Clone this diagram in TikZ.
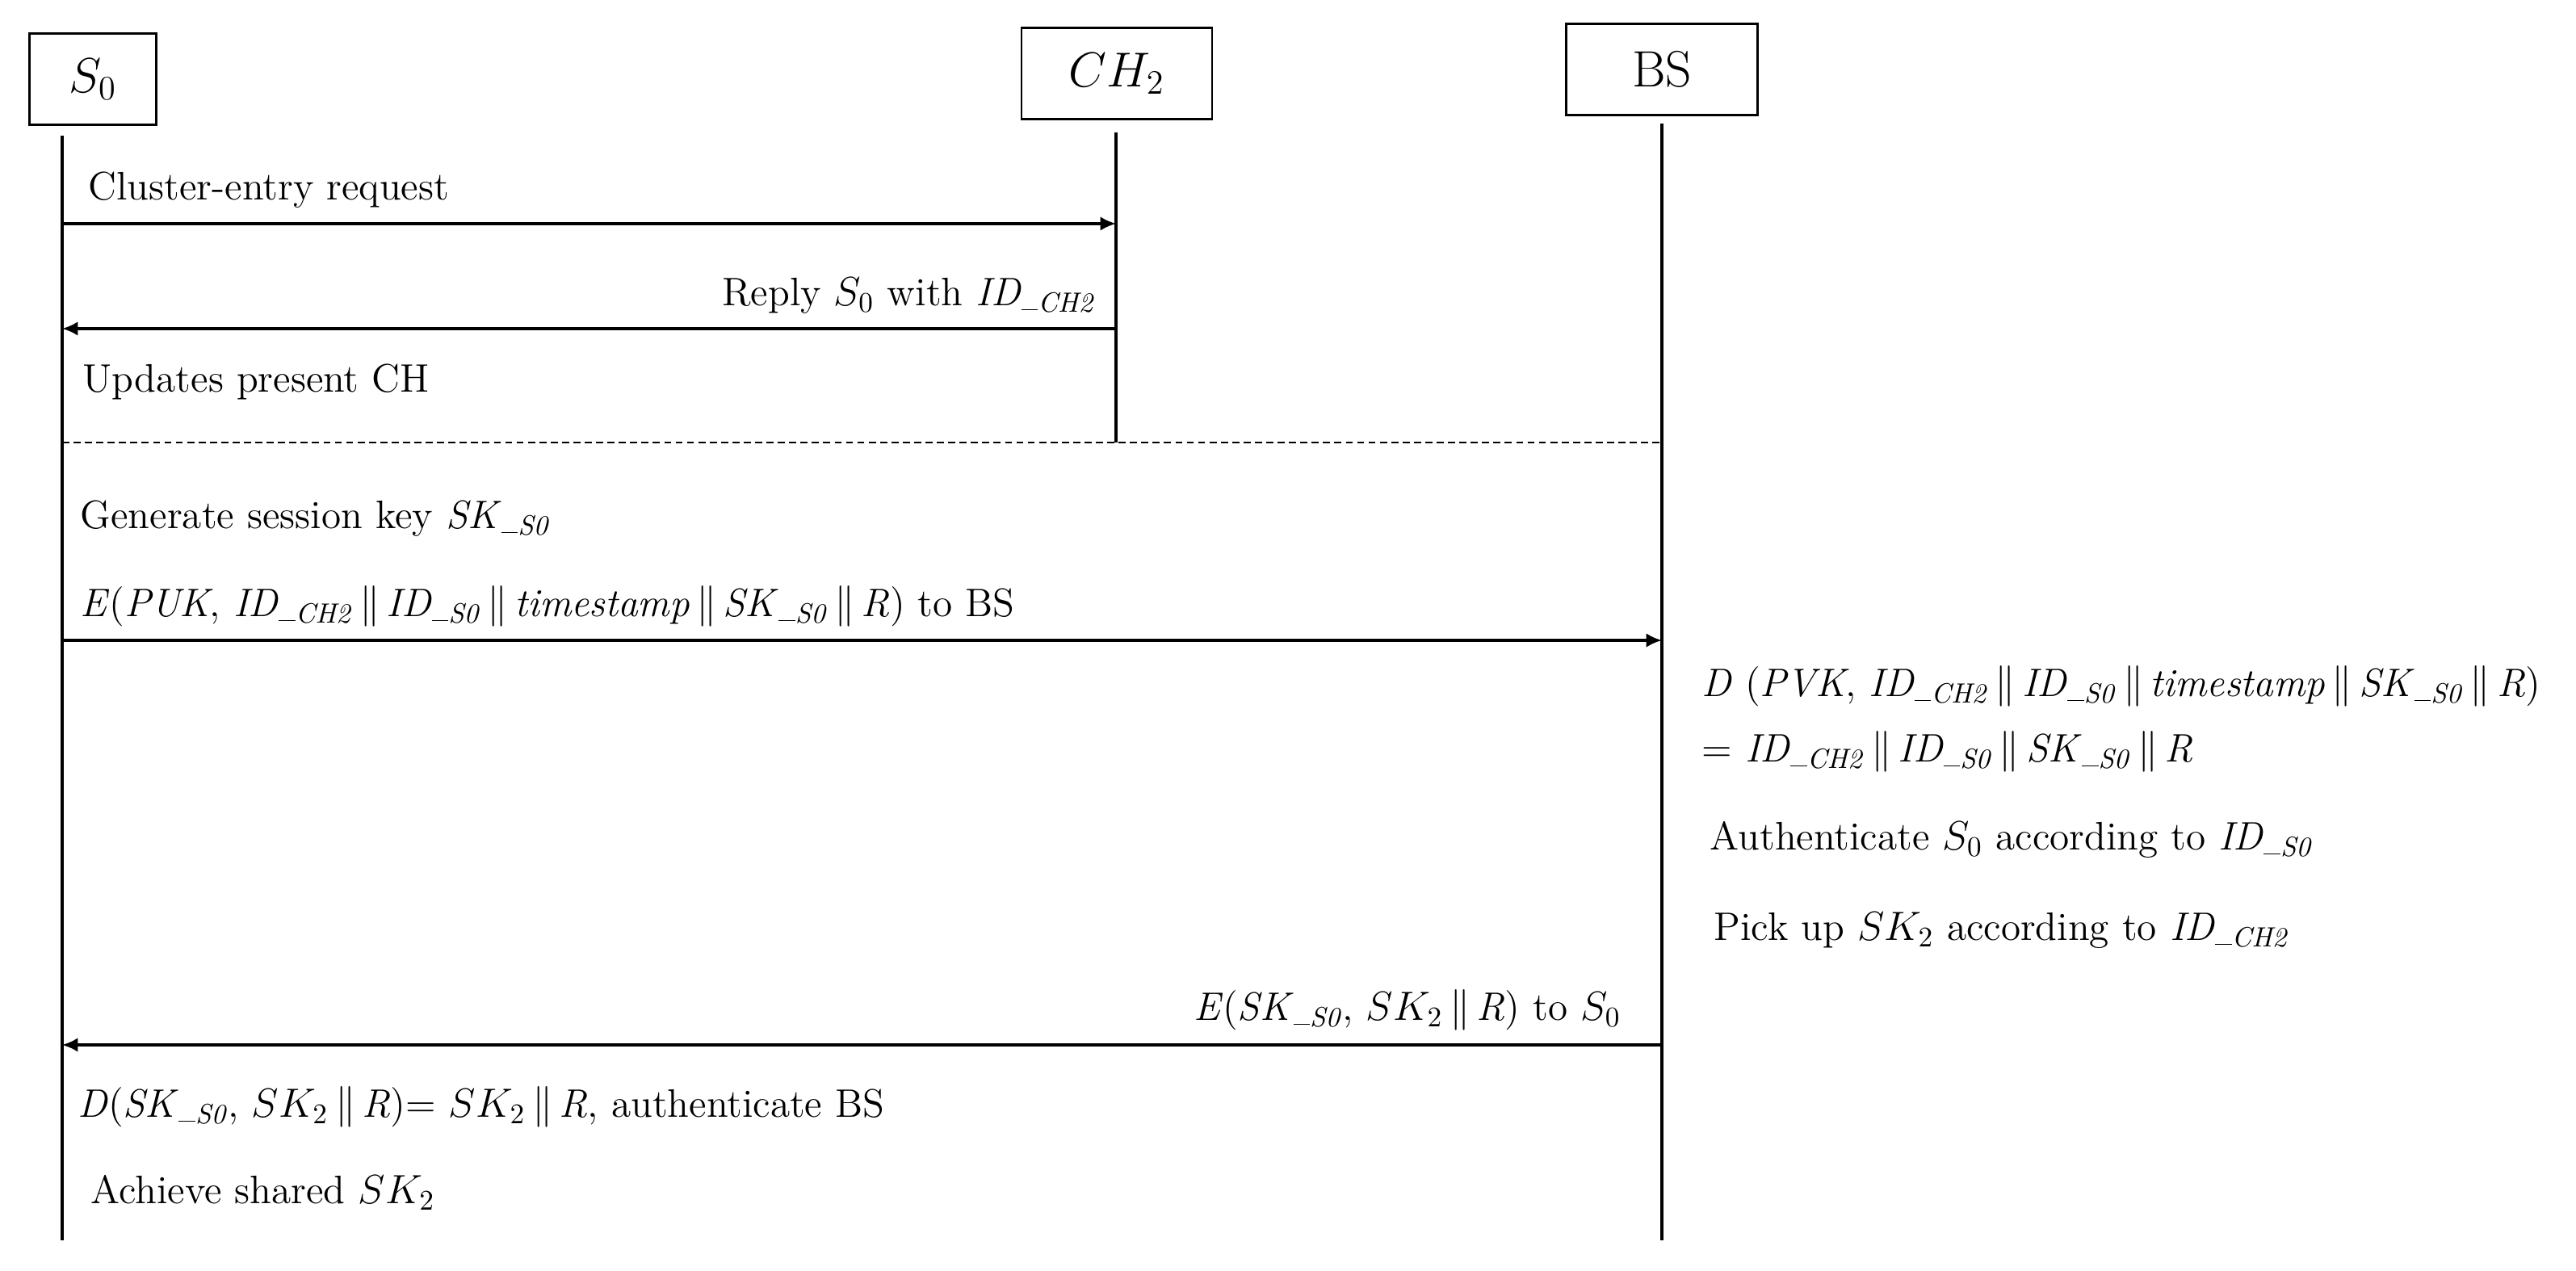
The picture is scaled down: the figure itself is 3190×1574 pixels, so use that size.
\documentclass[tikz,border=0pt]{standalone}
\usepackage{tikz}
\usetikzlibrary{arrows.meta, calc}
\usepackage{amsmath,amssymb}

% identifier with a printed underscore and a subscript
\newcommand{\lsub}[2]{\textit{#1}\rule[-0.25ex]{0.42em}{0.5pt}\textsubscript{\textit{#2}}}
\newcommand{\cc}{\,$\|$\,}

\begin{document}
\begin{tikzpicture}[
    x=0.01cm, y=-0.01cm,
    >={Latex[length=5.5pt,width=5pt]},
    font=\fontsize{14}{17}\selectfont,
    actor/.style={draw, line width=0.8pt, minimum height=1.13cm, inner sep=0pt, font=\fontsize{18}{21}\selectfont},
    life/.style={line width=0.9pt},
    msg/.style={->, line width=1pt},
    note/.style={anchor=base west, inner sep=0pt},
    rnote/.style={anchor=base east, inner sep=0pt},
    sep/.style={dash pattern=on 2.5pt off 1.5pt, line width=0.8pt}
  ]
    \useasboundingbox (0,0) rectangle (3190,1574);
    % actors
    \node[actor, minimum width=1.57cm] (s0) at (115,98) {$S_0$};
    \node[actor, minimum width=2.36cm] (ch2) at (1383,91) {$CH_2$};
    \node[actor, minimum width=2.37cm] (bs) at (2058,86) {BS};
    % lifelines
    \coordinate (s0top) at (77,168);
    \coordinate (s0end) at (77,1536);
    \coordinate (ch2top) at (1382,164);
    \coordinate (ch2end) at (1382,548);
    \coordinate (bstop) at (2058,153);
    \coordinate (bsend) at (2058,1536);
    \draw[life] (s0top) -- (s0end);
    \draw[life] (ch2top) -- (ch2end);
    \draw[life] (bstop) -- (bsend);
    % phase 1: joining the cluster
    \coordinate (m1a) at (77,277);
    \coordinate (m1b) at (1382,277);
    \coordinate (m2a) at (1382,407);
    \coordinate (m2b) at (77,407);
    \node[note] (req) at (109,248) {Cluster-entry request};
    \draw[msg] (m1a) -- (m1b);
    \node[rnote] (reply) at (1357,379) {Reply $S_0$ with \lsub{ID}{CH2}};
    \draw[msg] (m2a) -- (m2b);
    \node[note] (upd) at (102,486) {Updates present CH};
    \coordinate (sepa) at (77,548);
    \coordinate (sepb) at (2058,548);
    \draw[sep] (sepa) -- (sepb);
    % phase 2: key exchange with BS
    \node[note] (gen) at (99,655) {Generate session key \lsub{SK}{S0}};
    \node[note] (enc) at (99,764)
    {\textit{E}(\textit{PUK}, \lsub{ID}{CH2}\cc\lsub{ID}{S0}\cc\textit{timestamp}\cc\lsub{SK}{S0}\cc\textit{R}) to BS};
    \coordinate (m3a) at (77,793);
    \coordinate (m3b) at (2058,793);
    \draw[msg] (m3a) -- (m3b);
    \node[note] (dec) at (2107,863)
    {\textit{D} (\textit{PVK}, \lsub{ID}{CH2}\cc\lsub{ID}{S0}\cc\textit{timestamp}\cc\lsub{SK}{S0}\cc\textit{R})};
    \node[note] (eq) at (2107,944)
    {= \lsub{ID}{CH2}\cc\lsub{ID}{S0}\cc\lsub{SK}{S0}\cc\textit{R}};
    \node[note] (auth) at (2117,1053) {Authenticate $S_0$ according to \lsub{ID}{S0}};
    \node[note] (pick) at (2122,1165) {Pick up $SK_2$ according to \lsub{ID}{CH2}};
    \node[rnote] (ret) at (2008,1264) {\textit{E}(\lsub{SK}{S0}, $SK_2$\cc\textit{R}) to $S_0$};
    \coordinate (m4a) at (2058,1294);
    \coordinate (m4b) at (77,1294);
    \draw[msg] (m4a) -- (m4b);
    \node[note] (decs) at (96,1384)
    {\textit{D}(\lsub{SK}{S0}, $SK_2$\cc\textit{R})= $SK_2$\cc\textit{R}, authenticate BS};
    \node[note] (ach) at (112,1491) {Achieve shared $SK_2$};
\end{tikzpicture}
\end{document}
